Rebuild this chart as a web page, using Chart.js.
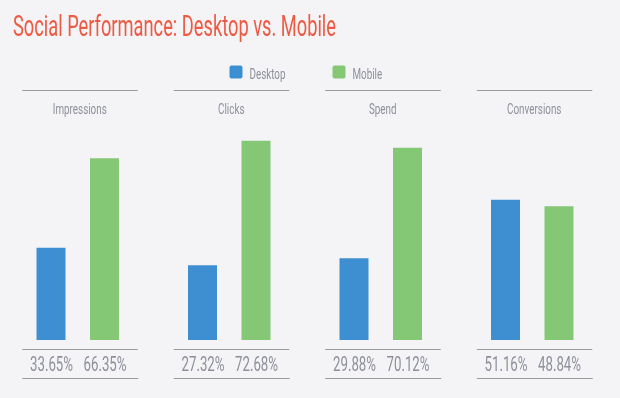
<!DOCTYPE html>
<html>
<head>
<meta charset="utf-8">
<script src="https://cdn.jsdelivr.net/npm/chart.js@4/dist/chart.umd.min.js"></script>
<style>
  html, body { margin: 0; padding: 0; background: #f4f4f6; }
  #chart { display: block; }
</style>
</head>
<body>
<canvas id="chart" width="620" height="398"></canvas>
<script>
// Données
const categories = ['Impressions', 'Clicks', 'Spend', 'Conversions'];
const seriesNames = ['Desktop', 'Mobile'];
const desktopShare = [33.65, 27.32, 29.88, 51.16];
const mobileShare = [66.35, 72.68, 70.12, 48.84];

const COLORS = {
  bg: '#f4f4f6',
  title: '#ec5a43',
  text: '#8d909b',
  rule: '#9b9b9f',
  desktop: '#3d8fd1',
  mobile: '#84c774'
};
const FONT = "Roboto, 'Liberation Sans', sans-serif";

// Facteur de compression horizontale : la police d'origine est une DIN condensée
function squeezeFor(ctx, sample, size, width) {
  ctx.save();
  ctx.font = `400 ${size}px ${FONT}`;
  const w = ctx.measureText(sample).width;
  ctx.restore();
  return width / w;
}

function narrowText(ctx, text, x, y, size, color, align, squeeze) {
  ctx.save();
  ctx.font = `400 ${size}px ${FONT}`;
  ctx.fillStyle = color;
  ctx.textAlign = align || 'center';
  ctx.textBaseline = 'alphabetic';
  ctx.translate(x, y);
  ctx.scale(squeeze, 1);
  ctx.fillText(text, 0, 0);
  ctx.restore();
}

function rule(ctx, x1, x2, y) {
  ctx.beginPath();
  ctx.moveTo(x1, y);
  ctx.lineTo(x2, y);
  ctx.stroke();
}

const decorPlugin = {
  id: 'decor',
  beforeDraw(chart) {
    const ctx = chart.ctx;
    ctx.save();
    ctx.fillStyle = COLORS.bg;
    ctx.fillRect(0, 0, chart.width, chart.height);
    ctx.restore();
  },
  afterDraw(chart) {
    const ctx = chart.ctx;
    const x = chart.scales.x;

    // Titre
    const title = 'Social Performance: Desktop vs. Mobile';
    narrowText(ctx, title, 13, 36, 29, COLORS.title, 'left', squeezeFor(ctx, title, 29, 323));

    // Légende
    const legendX = [229.5, 332.5];
    const sLegend = squeezeFor(ctx, 'Desktop', 15, 36);
    chart.data.datasets.forEach((ds, i) => {
      ctx.save();
      ctx.fillStyle = ds.backgroundColor;
      ctx.beginPath();
      ctx.roundRect(legendX[i], 65.5, 13, 13, 2);
      ctx.fill();
      ctx.restore();
      narrowText(ctx, ds.label, legendX[i] + 20, 78.5, 15, COLORS.text, 'left', sLegend);
    });

    // Filets
    ctx.save();
    ctx.strokeStyle = COLORS.rule;
    ctx.lineWidth = 1.2;
    categories.forEach((cat, i) => {
      const cx = x.getPixelForValue(i) + 2;
      rule(ctx, cx - 57.5, cx + 58, 90.5);
      rule(ctx, cx - 57.5, cx + 58, 349.5);
      rule(ctx, cx - 57.5, cx + 58.5, 378.5);
    });
    ctx.restore();

    // Titres de panneaux
    const sCat = squeezeFor(ctx, 'Impressions', 15, 54);
    categories.forEach((cat, i) => {
      const cx = x.getPixelForValue(i) + 2;
      narrowText(ctx, cat, cx, 113.5, 15, COLORS.text, 'center', sCat);
    });

    // Pourcentages sous chaque barre
    const sPct = squeezeFor(ctx, '33.65%', 20, 43);
    chart.data.datasets.forEach((ds, di) => {
      const meta = chart.getDatasetMeta(di);
      meta.data.forEach((bar, i) => {
        narrowText(ctx, ds.data[i].toFixed(2) + '%', bar.x + 0.5, 371, 20, COLORS.text, 'center', sPct);
      });
    });
  }
};

const chart = new Chart(document.getElementById('chart'), {
  type: 'bar',
  data: {
    labels: categories,
    datasets: [
      {
        label: seriesNames[0],
        data: desktopShare,
        backgroundColor: COLORS.desktop,
        borderWidth: 0,
        categoryPercentage: 0.706,
        barPercentage: 0.542
      },
      {
        label: seriesNames[1],
        data: mobileShare,
        backgroundColor: COLORS.mobile,
        borderWidth: 0,
        categoryPercentage: 0.706,
        barPercentage: 0.542
      }
    ]
  },
  options: {
    responsive: false,
    animation: false,
    devicePixelRatio: 1,
    layout: { padding: { left: 2, right: 12, top: 66, bottom: 58 } },
    plugins: {
      legend: { display: false },
      tooltip: { enabled: false },
      title: { display: false }
    },
    scales: {
      x: { display: false },
      y: { display: false, min: 0, max: 100 }
    }
  },
  plugins: [decorPlugin]
});
</script>
</body>
</html>
